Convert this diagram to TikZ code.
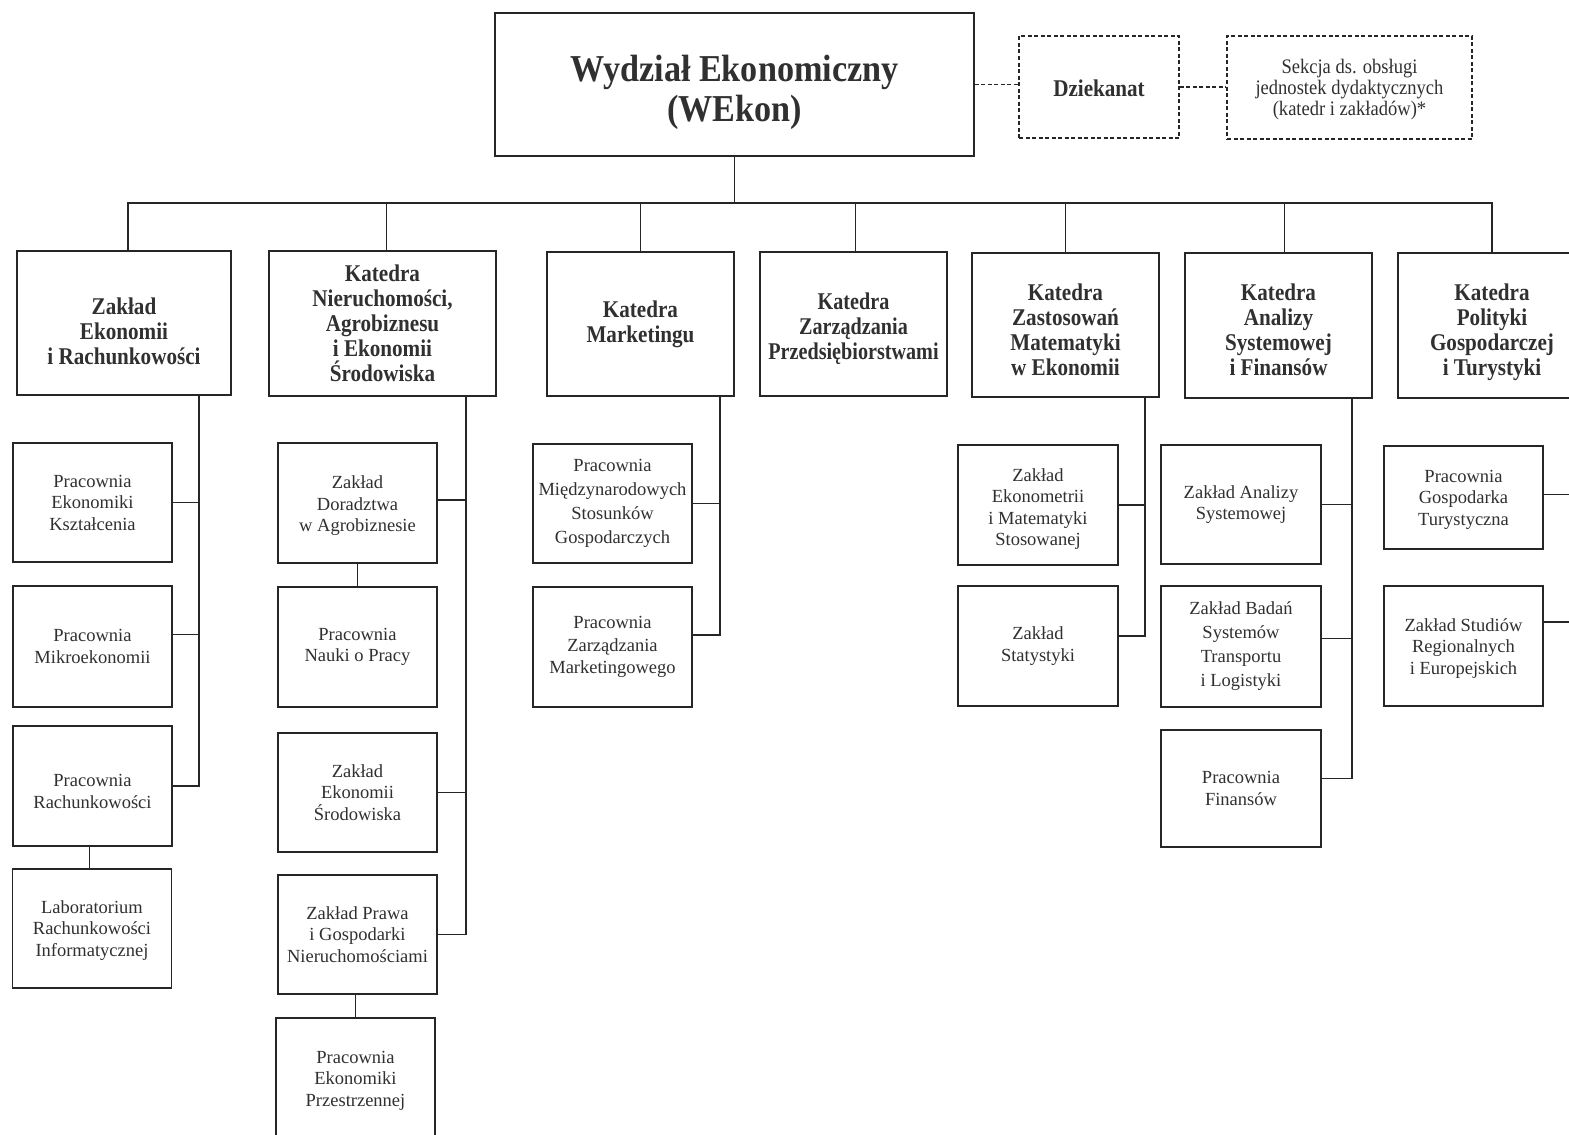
\documentclass[tikz,border=0pt]{standalone}
\usepackage{fontspec}
\setmainfont{Liberation Serif}
\newfontfamily\hdfont[FakeStretch=0.88]{Liberation Serif Bold}
\newfontfamily\hdnarrow[FakeStretch=0.84]{Liberation Serif Bold}
\newfontfamily\ttlfont[FakeStretch=0.9]{Liberation Serif Bold}
\newfontfamily\sekfont[FakeStretch=0.9]{Liberation Serif}
\newcommand\pd[1]{\rule{0pt}{\dimexpr 0.7em+#1*2\relax}}
\definecolor{linec}{HTML}{262626}
\definecolor{txtc}{HTML}{303030}
\tikzset{
  boxbase/.style={draw=linec, line width=1.8pt, inner sep=2pt, align=center, text=txtc},
  titlebox/.style={boxbase, font=\ttlfont\fontsize{38}{40}\selectfont},
  headbox/.style={boxbase, font=\hdfont\fontsize{24}{25}\selectfont},
  subbox/.style={boxbase, minimum width=159pt, font=\fontsize{18.5}{21.5}\selectfont},
  dashbox/.style={boxbase, line width=1.3pt, dash pattern=on 4pt off 2.5pt},
  conn/.style={draw=linec, line width=1.8pt},
  dconn/.style={draw=linec, line width=1.3pt, dash pattern=on 4pt off 2.5pt}
}
\begin{document}
\begin{tikzpicture}[x=1pt,y=-1pt]
\useasboundingbox[fill=white] (0,0) rectangle (1569,1135);
\clip (0,0) rectangle (1569,1135);

% top level
\node[titlebox, minimum width=479pt, minimum height=143pt] (wekon) at (734.5,84.5) {\pd{8pt}Wydział Ekonomiczny\\(WEkon)};
\node[dashbox, minimum width=160pt, minimum height=102pt, font=\hdfont\fontsize{24}{25}\selectfont] (dziek) at (1099,87) {\pd{1pt}Dziekanat};
\node[dashbox, minimum width=245pt, minimum height=103pt, font=\sekfont\fontsize{20.6}{21}\selectfont] (sekcja) at (1349.5,87.5) {\pd{2pt}Sekcja ds. obsługi\\jednostek dydaktycznych\\(katedr i zakładów)*};

\draw[dconn] (wekon.east) -- (wekon.east -| dziek.west);
\draw[dconn] (dziek.east) -- (dziek.east -| sekcja.west);

% level 1
\node[headbox, minimum width=214pt, minimum height=144pt] (k1) at (124,323) {\pd{8pt}Zakład\\Ekonomii\\i Rachunkowości};
\node[headbox, minimum width=227pt, minimum height=145pt] (k2) at (382.5,323.5) {Katedra\\Nieruchomości,\\Agrobiznesu\\i Ekonomii\\Środowiska};
\node[headbox, minimum width=187pt, minimum height=144pt] (k3) at (640.5,324) {Katedra\\Marketingu};
\node[headbox, minimum width=187pt, minimum height=144pt, font=\hdnarrow\fontsize{24}{25}\selectfont] (k4) at (853.5,324) {\pd{4.5pt}Katedra\\Zarządzania\\Przedsiębiorstwami};
\node[headbox, minimum width=187pt, minimum height=144pt] (k5) at (1065.5,325) {\pd{4.5pt}Katedra\\Zastosowań\\Matematyki\\w Ekonomii};
\node[headbox, minimum width=187pt, minimum height=145pt] (k6) at (1278.5,325.5) {\pd{4.5pt}Katedra\\Analizy\\Systemowej\\i Finansów};
\node[headbox, minimum width=188pt, minimum height=145pt] (k7) at (1492,325.5) {\pd{7pt}Katedra\\Polityki\\Gospodarczej\\i Turystyki};

\coordinate (busy) at (0,203);
\draw[conn] (wekon.south) -- (wekon.south |- busy);
\draw[conn] ([xshift=4pt]k1.north) -- ([xshift=4pt]k1.north |- busy) -- (k7.north |- busy) -- (k7.north);
\draw[conn] ([xshift=4pt]k2.north) -- ([xshift=4pt]k2.north |- busy);
\draw[conn] (k3.north) -- (k3.north |- busy);
\draw[conn] ([xshift=2pt]k4.north) -- ([xshift=2pt]k4.north |- busy);
\draw[conn] (k5.north) -- (k5.north |- busy);
\draw[conn] ([xshift=6pt]k6.north) -- ([xshift=6pt]k6.north |- busy);

% column 1
\node[subbox, minimum height=119pt] (p1a) at (92.5,502.5) {Pracownia\\Ekonomiki\\Kształcenia};
\node[subbox, minimum height=121pt] (p1b) at (92.5,646.5) {Pracownia\\Mikroekonomii};
\node[subbox, minimum height=120pt] (p1c) at (92.5,786) {\pd{5pt}Pracownia\\Rachunkowości};
\node[subbox, minimum height=119pt] (p1d) at (92,928.5) {\pd{2pt}Laboratorium\\Rachunkowości\\Informatycznej};
\coordinate (b1) at (199,395);
\draw[conn] (b1) |- (p1c.east);
\draw[conn] (p1a.east) -- (p1a.east -| b1);
\draw[conn] ([yshift=12pt]p1b.east) -- ([yshift=12pt]p1b.east -| b1);
\draw[conn] ([xshift=-3pt]p1c.south) -- ([xshift=-3pt]p1c.south |- p1d.north);

% column 2
\node[subbox, minimum height=120pt] (p2a) at (357.5,503) {\pd{3pt}Zakład\\Doradztwa\\w Agrobiznesie};
\node[subbox, minimum height=120pt] (p2b) at (357.5,647) {Pracownia\\Nauki o Pracy};
\node[subbox, minimum height=119pt] (p2c) at (357.5,792.5) {Zakład\\Ekonomii\\Środowiska};
\node[subbox, minimum height=119pt] (p2d) at (357.5,934.5) {Zakład Prawa\\i Gospodarki\\Nieruchomościami};
\node[subbox, minimum height=120pt] (p2e) at (355.5,1078) {\pd{2pt}Pracownia\\Ekonomiki\\Przestrzennej};
\coordinate (b2) at (466,396);
\draw[conn] (b2) |- (p2d.east);
\draw[conn] ([yshift=3pt]p2a.east) -- ([yshift=3pt]p2a.east -| b2);
\draw[conn] (p2c.east) -- (p2c.east -| b2);
\draw[conn] (p2a.south) -- (p2a.south |- p2b.north);
\draw[conn] (p2d.south -| p2e.north) -- (p2e.north);

% column 3
\node[subbox, minimum height=119pt, font=\fontsize{18.5}{24}\selectfont] (p3a) at (612.5,503.5) {Pracownia\\Międzynarodowych\\Stosunków\\Gospodarczych};
\node[subbox, minimum height=120pt, font=\fontsize{18.5}{22.5}\selectfont] (p3b) at (612.5,647) {Pracownia\\Zarządzania\\Marketingowego};
\coordinate (b3) at (720,396);
\draw[conn] (b3) |- ([yshift=12pt]p3b.east);
\draw[conn] (p3a.east) -- (p3a.east -| b3);

% column 5
\node[subbox, minimum width=160pt, minimum height=120pt] (p5a) at (1038,505) {\pd{4pt}Zakład\\Ekonometrii\\i Matematyki\\Stosowanej};
\node[subbox, minimum width=160pt, minimum height=120pt] (p5b) at (1038,646) {Zakład\\Statystyki};
\coordinate (b5) at (1145,397);
\draw[conn] (b5) |- ([yshift=10pt]p5b.east);
\draw[conn] (p5a.east) -- (p5a.east -| b5);

% column 6
\node[subbox, minimum width=160pt, minimum height=119pt] (p6a) at (1241,504.5) {Zakład Analizy\\Systemowej};
\node[subbox, minimum width=160pt, minimum height=121pt, font=\fontsize{18.5}{24}\selectfont] (p6b) at (1241,646.5) {Zakład Badań\\Systemów\\Transportu\\i Logistyki};
\node[subbox, minimum width=160pt, minimum height=117pt] (p6c) at (1241,788.5) {Pracownia\\Finansów};
\coordinate (b6) at (1352,398);
\draw[conn] (b6) |- ([yshift=10pt]p6c.east);
\draw[conn] (p6a.east) -- (p6a.east -| b6);
\draw[conn] ([yshift=8pt]p6b.east) -- ([yshift=8pt]p6b.east -| b6);

% column 7
\node[subbox, minimum height=103pt] (p7a) at (1463.5,497.5) {\pd{2pt}Pracownia\\Gospodarka\\Turystyczna};
\node[subbox, minimum height=120pt] (p7b) at (1463.5,646) {\pd{2pt}Zakład Studiów\\Regionalnych\\i Europejskich};
\coordinate (b7) at (1580,398);
\draw[conn] (b7) |- ([yshift=24pt]p7b.east);
\draw[conn] ([yshift=3pt]p7a.east) -- ([yshift=3pt]p7a.east -| b7);
\end{tikzpicture}
\end{document}
